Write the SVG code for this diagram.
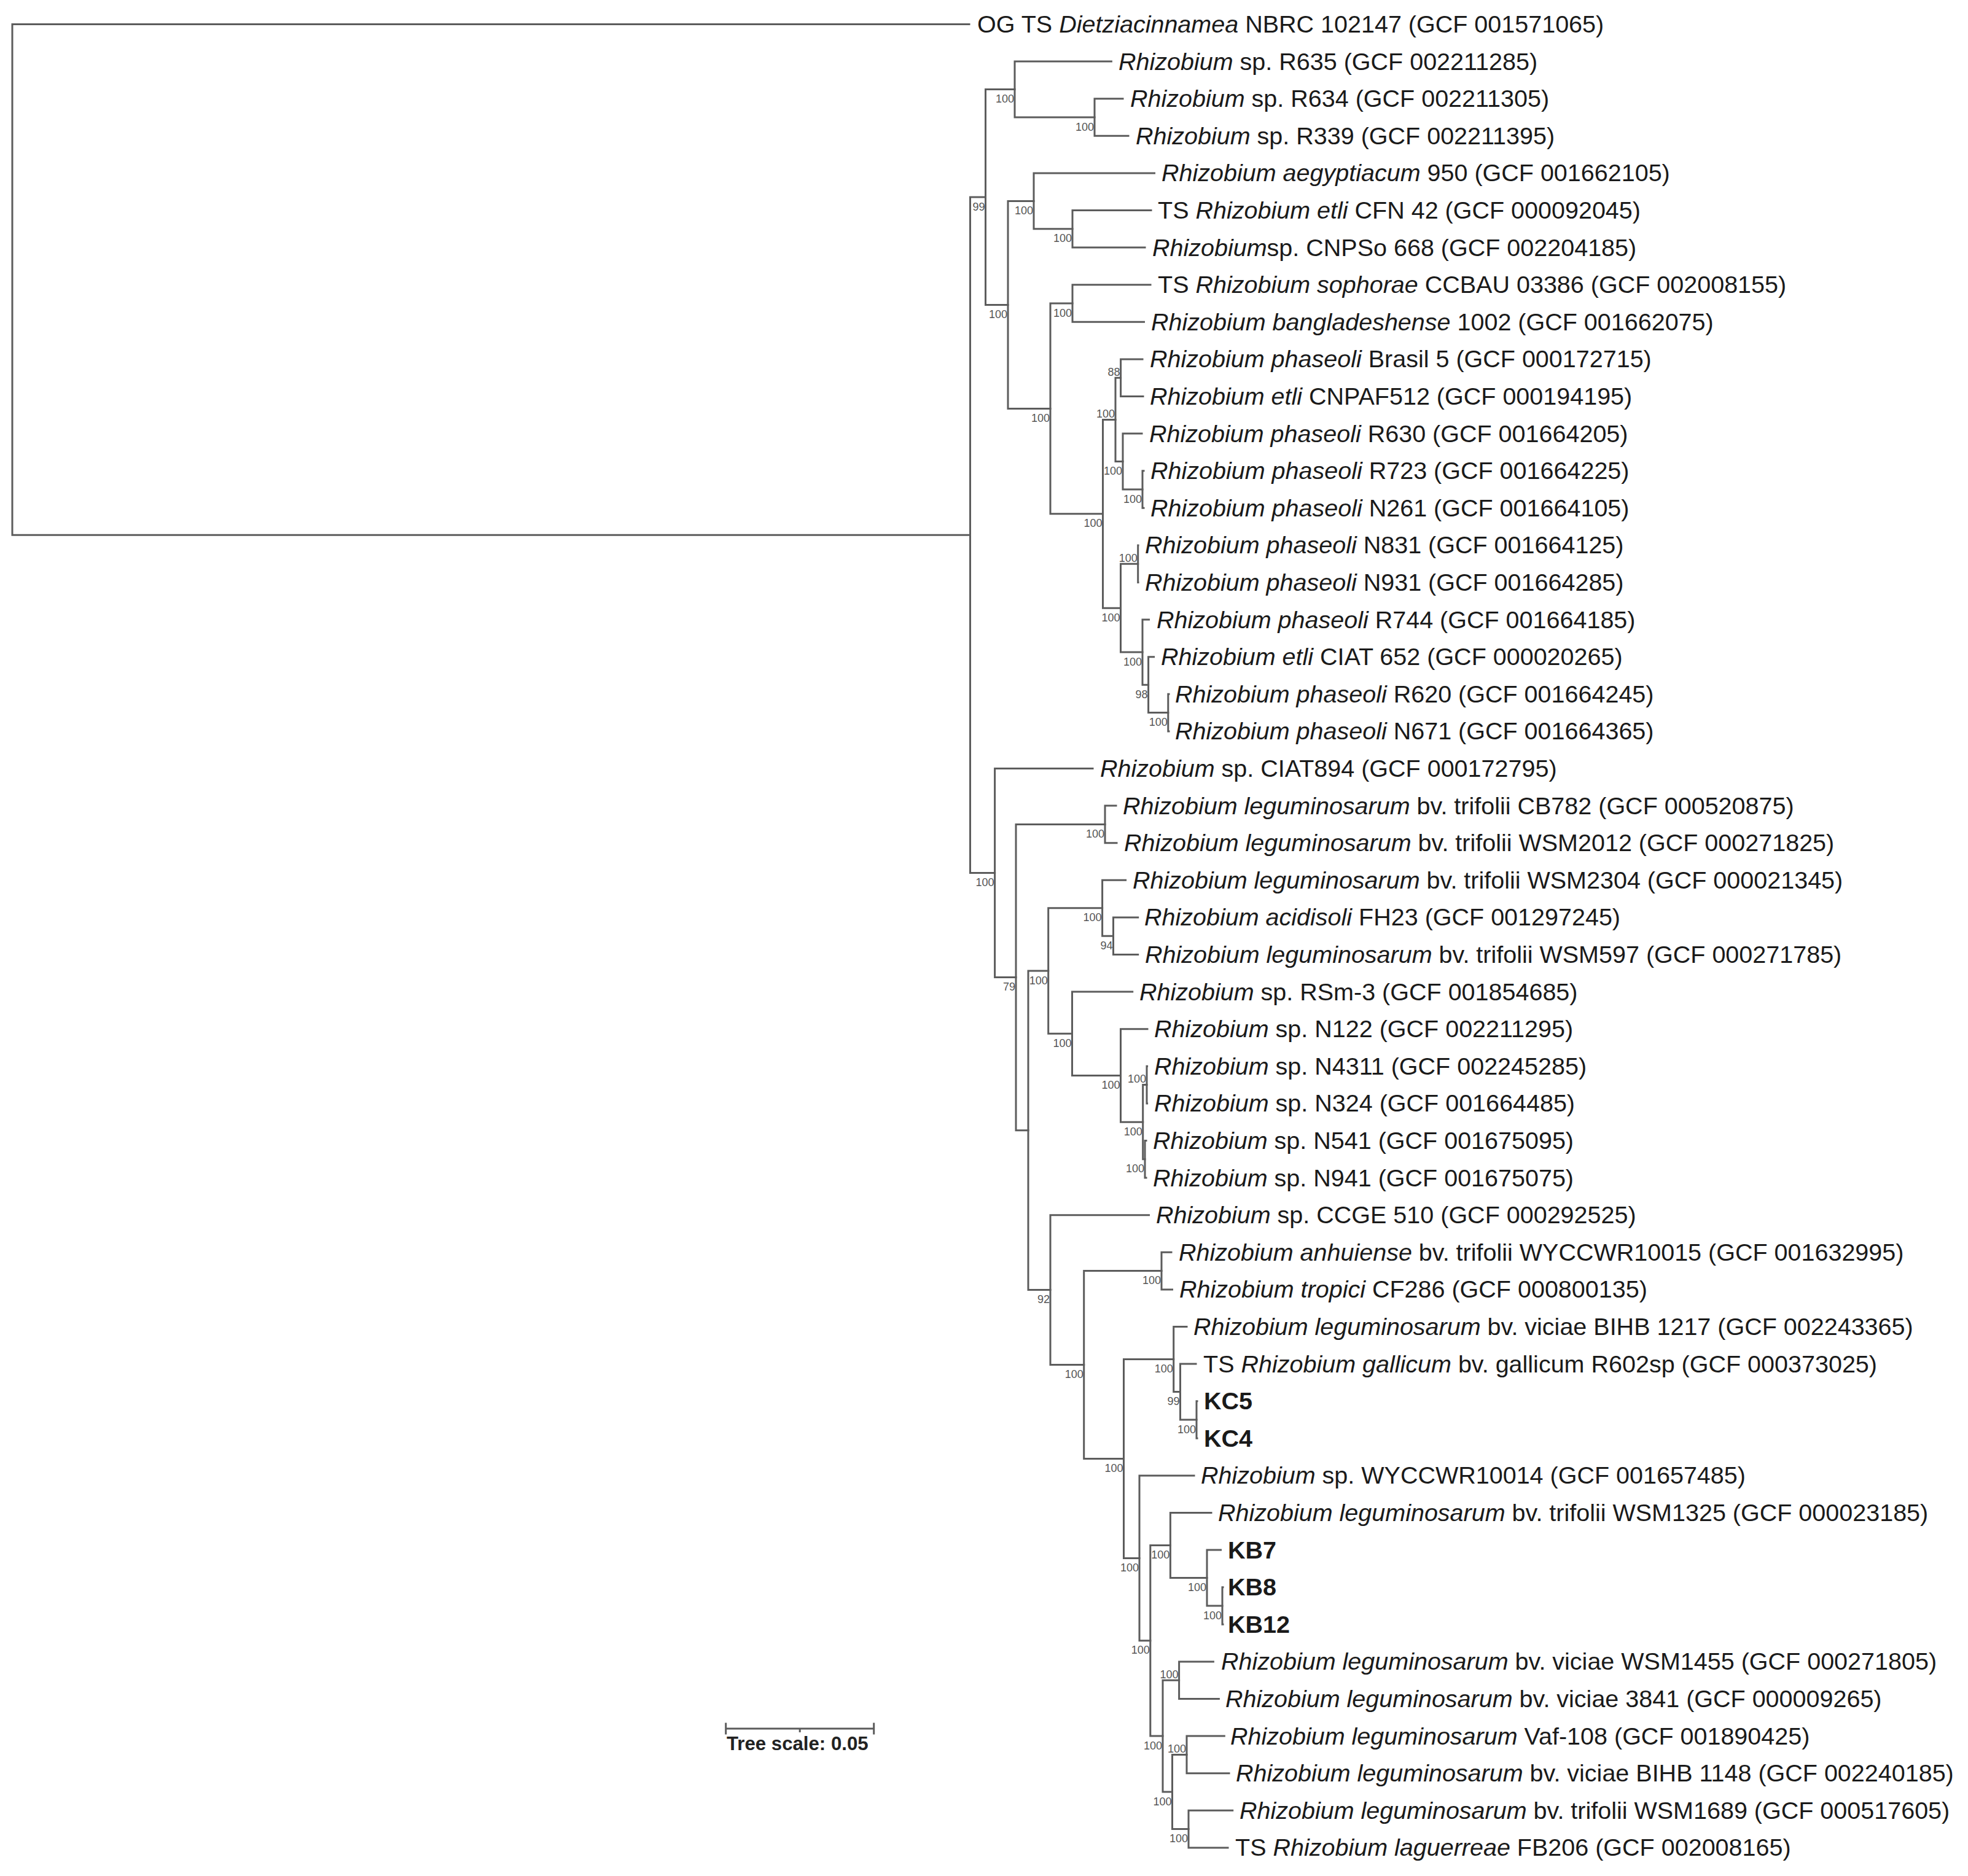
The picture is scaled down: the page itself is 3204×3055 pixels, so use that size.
<svg xmlns="http://www.w3.org/2000/svg" width="3204" height="3055" viewBox="0 0 3204 3055">
<style>
.br{fill:none;stroke:#5c5c5c;stroke-width:3;stroke-linecap:square;stroke-linejoin:miter}
.lf{font-family:"Liberation Sans",Arial,sans-serif;font-size:39.5px;fill:#1a1a1a}
.bs{font-family:"Liberation Sans",Arial,sans-serif;font-size:18px;fill:#555;text-anchor:end}
.it{font-style:italic}
.bd{font-weight:bold}
.sc{font-family:"Liberation Sans",Arial,sans-serif;font-size:31.2px;font-weight:bold;fill:#222}
</style>
<rect width="3204" height="3055" fill="#fff"/>
<g id="connectors">
<path class="br" d="M1578 39.5H20V871.3H1579.5"/>
<path class="br" d="M1604.5 321H1579.5V1421.6H1619.6"/>
<path class="br" d="M1652 145.6H1604.5V496.4H1641"/>
<path class="br" d="M1809.4 100.1H1652V191H1782"/>
<path class="br" d="M1828 160.7H1782V221.3H1837"/>
<path class="br" d="M1683 327.4H1641V665.4H1710"/>
<path class="br" d="M1879.5 281.9H1683V372.8H1746"/>
<path class="br" d="M1874 342.5H1746V403.1H1864"/>
<path class="br" d="M1746 494H1710V836.8H1795.5"/>
<path class="br" d="M1873 463.7H1746V524.3H1862.5"/>
<path class="br" d="M1816 683.4H1795.5V990.2H1824.5"/>
<path class="br" d="M1824.6 615.2H1816V751.6H1828"/>
<path class="br" d="M1860 584.9H1824.6V645.5H1861"/>
<path class="br" d="M1859 706.1H1828V797H1860"/>
<path class="br" d="M1862 766.7H1860V827.3H1862"/>
<path class="br" d="M1852.7 918.2H1824.5V1062.1H1860"/>
<path class="br" d="M1853 887.9H1852.7V948.5H1853"/>
<path class="br" d="M1870.5 1009.1H1860V1115.2H1869.6"/>
<path class="br" d="M1878.6 1069.7H1869.6V1160.6H1901.8"/>
<path class="br" d="M1903 1130.3H1901.8V1190.9H1903"/>
<path class="br" d="M1779 1251.5H1619.6V1591.6H1654"/>
<path class="br" d="M1799 1342.4H1654V1840.8H1674"/>
<path class="br" d="M1817 1312.1H1799V1372.7H1818"/>
<path class="br" d="M1706.7 1581H1674V2100.6H1710"/>
<path class="br" d="M1794.6 1478.8H1706.7V1683.3H1745.5"/>
<path class="br" d="M1832.6 1433.3H1794.6V1524.2H1812.5"/>
<path class="br" d="M1852.7 1493.9H1812.5V1554.5H1852.7"/>
<path class="br" d="M1843.7 1615.1H1745.5V1751.5H1824.5"/>
<path class="br" d="M1868 1675.7H1824.5V1827.2H1860.7"/>
<path class="br" d="M1867 1766.6H1860.7V1887.8H1864"/>
<path class="br" d="M1867.6 1736.3H1867V1796.9H1867.6"/>
<path class="br" d="M1866 1857.5H1864V1918.1H1866"/>
<path class="br" d="M1870.5 1978.7H1710V2222.5H1764.7"/>
<path class="br" d="M1891 2069.6H1764.7V2375.4H1829.5"/>
<path class="br" d="M1907 2039.3H1891V2099.9H1908.5"/>
<path class="br" d="M1910.7 2213.5H1829.5V2537.4H1855"/>
<path class="br" d="M1932 2160.5H1910.7V2266.6H1921.5"/>
<path class="br" d="M1947 2221.1H1921.5V2312H1948"/>
<path class="br" d="M1949 2281.7H1948V2342.3H1949"/>
<path class="br" d="M1944 2402.9H1855V2671.8H1872.8"/>
<path class="br" d="M1905.4 2516.5H1872.8V2827.1H1893"/>
<path class="br" d="M1972 2463.5H1905.4V2569.6H1965"/>
<path class="br" d="M1987.5 2524.1H1965V2615H1990"/>
<path class="br" d="M1991 2584.7H1990V2645.3H1991"/>
<path class="br" d="M1919.6 2736.2H1893V2918H1908.5"/>
<path class="br" d="M1975.4 2705.9H1919.6V2766.5H1984.4"/>
<path class="br" d="M1932 2857.4H1908.5V2978.6H1935"/>
<path class="br" d="M1993.3 2827.1H1932V2887.7H2001"/>
<path class="br" d="M2006.7 2948.3H1935V3008.9H1999"/>
</g>
<g id="support-values" class="bs">
<text x="1603.5" y="342.6">99</text>
<text x="1651" y="167.2">100</text>
<text x="1781" y="212.6">100</text>
<text x="1640" y="518">100</text>
<text x="1682" y="349">100</text>
<text x="1745" y="394.4">100</text>
<text x="1709" y="687">100</text>
<text x="1745" y="515.6">100</text>
<text x="1794.5" y="858.4">100</text>
<text x="1815" y="679.9">100</text>
<text x="1823.6" y="611.7">88</text>
<text x="1827" y="773.2">100</text>
<text x="1859" y="818.6">100</text>
<text x="1823.5" y="1011.8">100</text>
<text x="1851.7" y="914.7">100</text>
<text x="1859" y="1083.7">100</text>
<text x="1868.6" y="1136.8">98</text>
<text x="1900.8" y="1182.2">100</text>
<text x="1618.6" y="1443.2">100</text>
<text x="1653" y="1613.2">79</text>
<text x="1798" y="1364">100</text>
<text x="1705.7" y="1602.6">100</text>
<text x="1793.6" y="1500.4">100</text>
<text x="1811.5" y="1545.8">94</text>
<text x="1744.5" y="1704.9">100</text>
<text x="1823.5" y="1773.1">100</text>
<text x="1859.7" y="1848.8">100</text>
<text x="1866" y="1763.1">100</text>
<text x="1863" y="1909.4">100</text>
<text x="1709" y="2122.2">92</text>
<text x="1763.7" y="2244.1">100</text>
<text x="1890" y="2091.2">100</text>
<text x="1828.5" y="2397">100</text>
<text x="1909.7" y="2235.1">100</text>
<text x="1920.5" y="2288.2">99</text>
<text x="1947" y="2333.6">100</text>
<text x="1854" y="2559">100</text>
<text x="1871.8" y="2693.4">100</text>
<text x="1904.4" y="2538.1">100</text>
<text x="1964" y="2591.2">100</text>
<text x="1989" y="2636.6">100</text>
<text x="1892" y="2848.7">100</text>
<text x="1918.6" y="2732.7">100</text>
<text x="1907.5" y="2939.6">100</text>
<text x="1931" y="2853.9">100</text>
<text x="1934" y="3000.2">100</text>
</g>
<g id="leaves" class="lf">
<g id="leaf-00"><text x="1591" y="53">OG TS <tspan class="it">Dietziacinnamea</tspan> NBRC 102147 (GCF 001571065)</text></g>
<g id="leaf-01"><text x="1821" y="113.6"><tspan class="it">Rhizobium</tspan> sp. R635 (GCF 002211285)</text></g>
<g id="leaf-02"><text x="1840" y="174.2"><tspan class="it">Rhizobium</tspan> sp. R634 (GCF 002211305)</text></g>
<g id="leaf-03"><text x="1849" y="234.8"><tspan class="it">Rhizobium</tspan> sp. R339 (GCF 002211395)</text></g>
<g id="leaf-04"><text x="1891" y="295.4"><tspan class="it">Rhizobium aegyptiacum</tspan> 950 (GCF 001662105)</text></g>
<g id="leaf-05"><text x="1885" y="356">TS <tspan class="it">Rhizobium etli</tspan> CFN 42 (GCF 000092045)</text></g>
<g id="leaf-06"><text x="1876" y="416.6"><tspan class="it">Rhizobium</tspan>sp. CNPSo 668 (GCF 002204185)</text></g>
<g id="leaf-07"><text x="1885" y="477.2">TS <tspan class="it">Rhizobium sophorae</tspan> CCBAU 03386 (GCF 002008155)</text></g>
<g id="leaf-08"><text x="1874" y="537.8"><tspan class="it">Rhizobium bangladeshense</tspan> 1002 (GCF 001662075)</text></g>
<g id="leaf-09"><text x="1872" y="598.4"><tspan class="it">Rhizobium phaseoli</tspan> Brasil 5 (GCF 000172715)</text></g>
<g id="leaf-10"><text x="1872" y="659"><tspan class="it">Rhizobium etli</tspan> CNPAF512 (GCF 000194195)</text></g>
<g id="leaf-11"><text x="1871" y="719.6"><tspan class="it">Rhizobium phaseoli</tspan> R630 (GCF 001664205)</text></g>
<g id="leaf-12"><text x="1873" y="780.2"><tspan class="it">Rhizobium phaseoli</tspan> R723 (GCF 001664225)</text></g>
<g id="leaf-13"><text x="1873" y="840.8"><tspan class="it">Rhizobium phaseoli</tspan> N261 (GCF 001664105)</text></g>
<g id="leaf-14"><text x="1864" y="901.4"><tspan class="it">Rhizobium phaseoli</tspan> N831 (GCF 001664125)</text></g>
<g id="leaf-15"><text x="1864" y="962"><tspan class="it">Rhizobium phaseoli</tspan> N931 (GCF 001664285)</text></g>
<g id="leaf-16"><text x="1883" y="1022.6"><tspan class="it">Rhizobium phaseoli</tspan> R744 (GCF 001664185)</text></g>
<g id="leaf-17"><text x="1890" y="1083.2"><tspan class="it">Rhizobium etli</tspan> CIAT 652 (GCF 000020265)</text></g>
<g id="leaf-18"><text x="1913" y="1143.8"><tspan class="it">Rhizobium phaseoli</tspan> R620 (GCF 001664245)</text></g>
<g id="leaf-19"><text x="1913" y="1204.4"><tspan class="it">Rhizobium phaseoli</tspan> N671 (GCF 001664365)</text></g>
<g id="leaf-20"><text x="1791" y="1265"><tspan class="it">Rhizobium</tspan> sp. CIAT894 (GCF 000172795)</text></g>
<g id="leaf-21"><text x="1828" y="1325.6"><tspan class="it">Rhizobium leguminosarum</tspan> bv. trifolii CB782 (GCF 000520875)</text></g>
<g id="leaf-22"><text x="1830" y="1386.2"><tspan class="it">Rhizobium leguminosarum</tspan> bv. trifolii WSM2012 (GCF 000271825)</text></g>
<g id="leaf-23"><text x="1844" y="1446.8"><tspan class="it">Rhizobium leguminosarum</tspan> bv. trifolii WSM2304 (GCF 000021345)</text></g>
<g id="leaf-24"><text x="1863" y="1507.4"><tspan class="it">Rhizobium acidisoli</tspan> FH23 (GCF 001297245)</text></g>
<g id="leaf-25"><text x="1864" y="1568"><tspan class="it">Rhizobium leguminosarum</tspan> bv. trifolii WSM597 (GCF 000271785)</text></g>
<g id="leaf-26"><text x="1855" y="1628.6"><tspan class="it">Rhizobium</tspan> sp. RSm-3 (GCF 001854685)</text></g>
<g id="leaf-27"><text x="1879" y="1689.2"><tspan class="it">Rhizobium</tspan> sp. N122 (GCF 002211295)</text></g>
<g id="leaf-28"><text x="1879" y="1749.8"><tspan class="it">Rhizobium</tspan> sp. N4311 (GCF 002245285)</text></g>
<g id="leaf-29"><text x="1879" y="1810.4"><tspan class="it">Rhizobium</tspan> sp. N324 (GCF 001664485)</text></g>
<g id="leaf-30"><text x="1877" y="1871"><tspan class="it">Rhizobium</tspan> sp. N541 (GCF 001675095)</text></g>
<g id="leaf-31"><text x="1877" y="1931.6"><tspan class="it">Rhizobium</tspan> sp. N941 (GCF 001675075)</text></g>
<g id="leaf-32"><text x="1882" y="1992.2"><tspan class="it">Rhizobium</tspan> sp. CCGE 510 (GCF 000292525)</text></g>
<g id="leaf-33"><text x="1919" y="2052.8"><tspan class="it">Rhizobium anhuiense</tspan> bv. trifolii WYCCWR10015 (GCF 001632995)</text></g>
<g id="leaf-34"><text x="1920" y="2113.4"><tspan class="it">Rhizobium tropici</tspan> CF286 (GCF 000800135)</text></g>
<g id="leaf-35"><text x="1943" y="2174"><tspan class="it">Rhizobium leguminosarum</tspan> bv. viciae BIHB 1217 (GCF 002243365)</text></g>
<g id="leaf-36"><text x="1959" y="2234.6">TS <tspan class="it">Rhizobium gallicum</tspan> bv. gallicum R602sp (GCF 000373025)</text></g>
<g id="leaf-37"><text class="bd" x="1960" y="2295.2">KC5</text></g>
<g id="leaf-38"><text class="bd" x="1960" y="2355.8">KC4</text></g>
<g id="leaf-39"><text x="1955" y="2416.4"><tspan class="it">Rhizobium</tspan> sp. WYCCWR10014 (GCF 001657485)</text></g>
<g id="leaf-40"><text x="1983" y="2477"><tspan class="it">Rhizobium leguminosarum</tspan> bv. trifolii WSM1325 (GCF 000023185)</text></g>
<g id="leaf-41"><text class="bd" x="1999" y="2537.6">KB7</text></g>
<g id="leaf-42"><text class="bd" x="1999" y="2598.2">KB8</text></g>
<g id="leaf-43"><text class="bd" x="1999" y="2658.8">KB12</text></g>
<g id="leaf-44"><text x="1988" y="2719.4"><tspan class="it">Rhizobium leguminosarum</tspan> bv. viciae WSM1455 (GCF 000271805)</text></g>
<g id="leaf-45"><text x="1995" y="2780"><tspan class="it">Rhizobium leguminosarum</tspan> bv. viciae 3841 (GCF 000009265)</text></g>
<g id="leaf-46"><text x="2003" y="2840.6"><tspan class="it">Rhizobium leguminosarum</tspan> Vaf-108 (GCF 001890425)</text></g>
<g id="leaf-47"><text x="2012" y="2901.2"><tspan class="it">Rhizobium leguminosarum</tspan> bv. viciae BIHB 1148 (GCF 002240185)</text></g>
<g id="leaf-48"><text x="2018" y="2961.8"><tspan class="it">Rhizobium leguminosarum</tspan> bv. trifolii WSM1689 (GCF 000517605)</text></g>
<g id="leaf-49"><text x="2011" y="3022.4">TS <tspan class="it">Rhizobium laguerreae</tspan> FB206 (GCF 002008165)</text></g>
</g>
<g id="scale-bar">
<path class="br" d="M1181.7 2815H1422.7M1181.7 2807V2823M1422.7 2807V2823M1302.2 2815V2819.5"/>
<text class="sc" x="1183" y="2850">Tree scale: 0.05</text>
</g>
</svg>
